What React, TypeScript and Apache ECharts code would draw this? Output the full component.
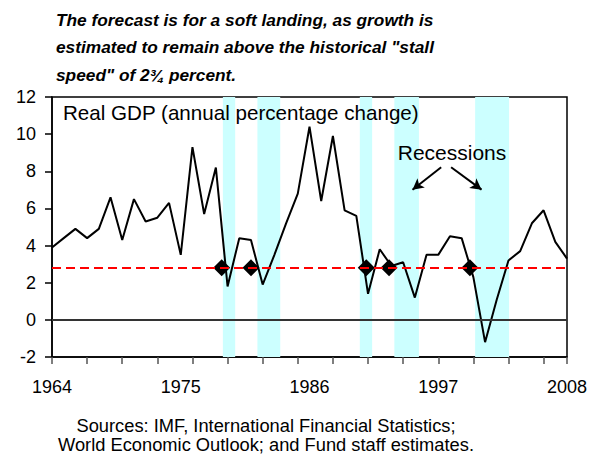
import React, { useEffect, useRef } from "react";
import * as echarts from "echarts";

const BASE_YEAR = 1964;
const years: number[] = Array.from({ length: 45 }, (_, i) => BASE_YEAR + i);
const gdp: number[] = [
  3.9, 4.4, 4.9, 4.4, 4.9, 6.6, 4.3, 6.5, 5.3, 5.5,
  6.3, 3.5, 9.3, 5.7, 8.2, 1.8, 4.4, 4.3, 1.9, 3.5,
  5.2, 6.8, 10.4, 6.4, 9.9, 5.9, 5.6, 1.4, 3.8, 2.9,
  3.1, 1.2, 3.5, 3.5, 4.5, 4.4, 2.3, -1.2, 1.1, 3.2,
  3.7, 5.2, 5.9, 4.2, 3.3,
];
const recessionStart: number[] = [1978.6, 1981.55, 1990.3, 1993.25, 2000.15];
const recessionEnd: number[] = [1979.65, 1983.5, 1991.35, 1995.35, 2003.05];
const stallSpeed = 2.8;
const stallYears: number[] = [1978.5, 1981.0, 1990.85, 1992.8, 1999.7];
const yTicks = { min: -2, max: 12, step: 2 };
const xLabelStep = 11;
const xTickStep = 3;

const titleLines = [
  "The forecast is for a soft landing, as growth is",
  'estimated to remain above the historical "stall',
  'speed" of 2\u00BE percent.',
];
const sourceLines = [
  "Sources: IMF, International Financial Statistics;",
  "World Economic Outlook; and Fund staff estimates.",
];

const FONT = "'Liberation Sans', Arial, sans-serif";

export default function App() {
  const ref = useRef<HTMLDivElement>(null);
  useEffect(() => {
    if (!ref.current) return;
    const chart = echarts.init(ref.current, undefined, { renderer: "svg" });
    const span = years[years.length - 1] - BASE_YEAR;
    const lineData = years.map((y, i) => [y - BASE_YEAR, gdp[i]]);
    const bandData = recessionStart.map((s, i) => [
      { xAxis: s - BASE_YEAR },
      { xAxis: recessionEnd[i] - BASE_YEAR },
    ]);
    const stallData = stallYears.map((y) => [y - BASE_YEAR, stallSpeed]);

    const option: any = {
      animation: false,
      backgroundColor: "#fff",
      textStyle: { fontFamily: FONT },
      grid: {
        left: 52,
        right: 26,
        top: 97,
        bottom: 109,
        show: true,
        borderColor: "#000",
        borderWidth: 1.5,
        backgroundColor: "transparent",
      },
      xAxis: [
        {
          type: "value",
          min: 0,
          max: span,
          interval: xLabelStep,
          axisLine: { show: true, onZero: false, lineStyle: { color: "#000", width: 1.5 } },
          axisTick: { show: false },
          splitLine: { show: false },
          axisLabel: {
            color: "#000",
            fontSize: 18,
            fontFamily: FONT,
            margin: 21,
            formatter: (v: number) => String(BASE_YEAR + v),
          },
        },
        {
          type: "value",
          position: "bottom",
          min: 0,
          max: span,
          interval: xTickStep,
          axisLine: { show: false, onZero: false },
          axisTick: { show: true, length: 7, lineStyle: { color: "#555", width: 1.5 } },
          splitLine: { show: false },
          axisLabel: { show: false },
        },
      ],
      yAxis: {
        type: "value",
        min: yTicks.min,
        max: yTicks.max,
        interval: yTicks.step,
        axisLine: { show: true, onZero: false, lineStyle: { color: "#000", width: 1.5 } },
        axisTick: { show: true, length: 7, lineStyle: { color: "#000", width: 1.5 } },
        splitLine: { show: false },
        axisLabel: { color: "#000", fontSize: 18, fontFamily: FONT, margin: 16 },
      },
      series: [
        {
          type: "line",
          name: "bands",
          data: [],
          z: 1,
          markArea: {
            silent: true,
            itemStyle: { color: "#ccffff", opacity: 1 },
            data: bandData,
          },
          markLine: {
            silent: true,
            symbol: "none",
            label: { show: false },
            data: [
              { yAxis: 0, lineStyle: { color: "#333", width: 2, type: "solid" } },
              { yAxis: stallSpeed, lineStyle: { color: "#ff0000", width: 2, type: [9, 5] } },
            ],
          },
        },
        {
          type: "line",
          name: "Real GDP",
          data: lineData,
          z: 3,
          symbol: "none",
          lineStyle: { color: "#000", width: 2 },
          markLine: {
            silent: true,
            symbol: ["none", "arrow"],
            symbolSize: [9, 11],
            label: { show: false },
            lineStyle: { color: "#000", width: 2, type: "solid" },
            data: [
              [{ coord: [33.25, 8.22] }, { coord: [30.8, 7.01] }],
              [{ coord: [34.1, 8.22] }, { coord: [36.7, 7.01] }],
            ],
          },
        },
        {
          type: "scatter",
          name: "stall",
          data: stallData,
          z: 4,
          symbol: "diamond",
          symbolSize: 17,
          itemStyle: { color: "#000", opacity: 1, borderWidth: 0 },
        },
      ],
      graphic: [
        ...titleLines.map((t, i) => ({
          type: "text",
          left: 56,
          top: 11 + i * 27.5,
          style: {
            text: t,
            fill: "#000",
            font: `italic bold 17.3px ${FONT}`,
          },
        })),
        {
          type: "text",
          x: 63,
          y: 112.5,
          style: {
            text: "Real GDP (annual percentage change)",
            fill: "#000",
            fontSize: 20.6,
            fontFamily: FONT,
            verticalAlign: "middle",
          },
          z: 10,
        },
        {
          type: "text",
          x: 452,
          y: 152,
          style: {
            text: "Recessions",
            fill: "#000",
            fontSize: 21,
            fontFamily: FONT,
            align: "center",
            verticalAlign: "middle",
          },
          z: 10,
        },
        ...sourceLines.map((t, i) => ({
          type: "text",
          x: 266,
          y: 425 + i * 19,
          style: {
            text: t,
            fill: "#000",
            fontSize: 18.3,
            fontFamily: FONT,
            align: "center",
            verticalAlign: "middle",
          },
        })),
      ],
    };
    chart.setOption(option);
    return () => chart.dispose();
  }, []);
  return (
    <div
      ref={ref}
      style={{ position: "fixed", left: 0, top: 0, width: 593, height: 466, background: "#fff" }}
    />
  );
}
